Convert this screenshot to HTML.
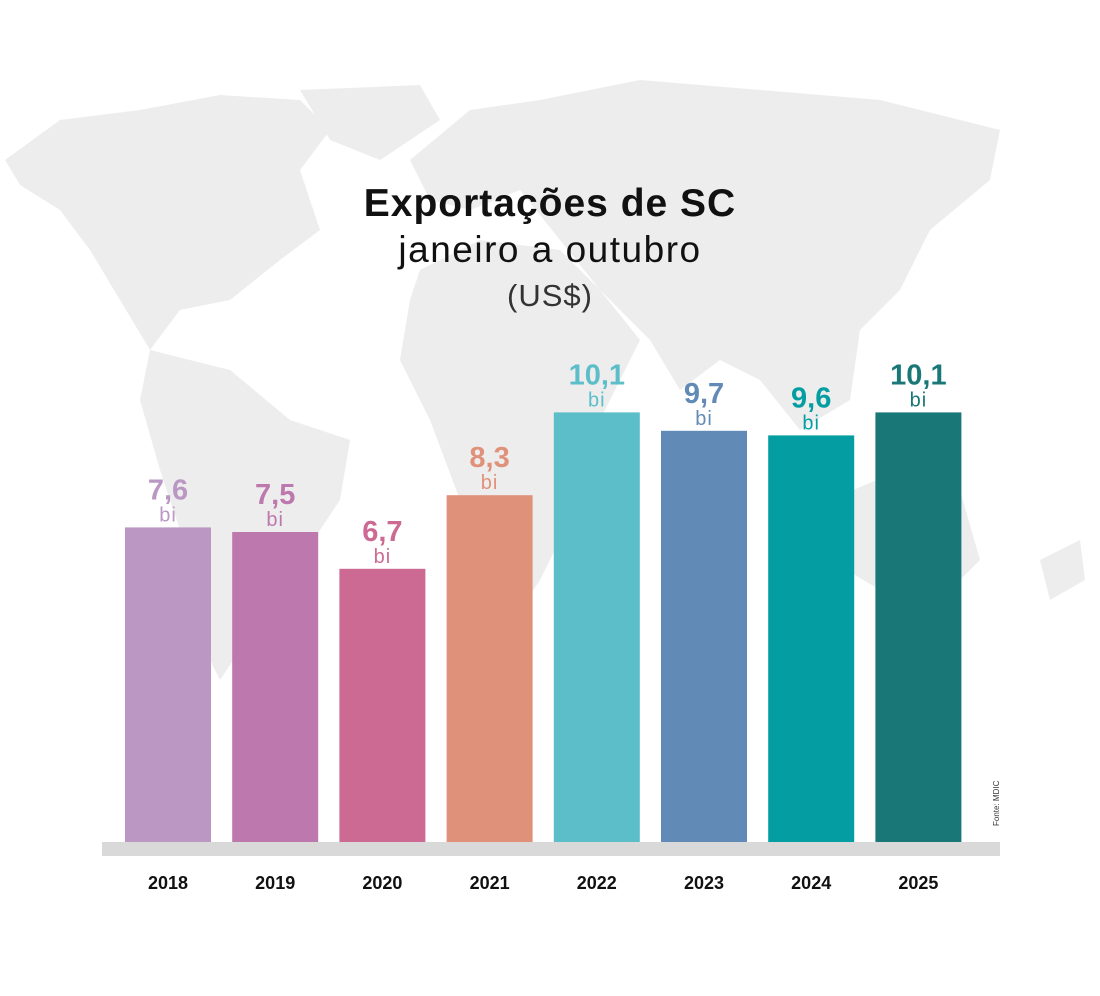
<!DOCTYPE html>
<html><head><meta charset="utf-8"><style>
body{margin:0;width:1100px;height:996px;background:#fff;overflow:hidden;font-family:"Liberation Sans",sans-serif;position:relative}
svg{position:absolute;left:0;top:0}
</style></head><body>
<svg width="1100" height="996">
<g fill="#ededed">
<path d="M5,160 L60,120 L140,110 L220,95 L300,100 L330,130 L300,170 L320,230 L280,260 L230,300 L180,310 L150,350 L120,300 L90,250 L60,210 L20,185Z"/>
<path d="M300,90 L420,85 L440,120 L380,160 L330,140Z"/>
<path d="M150,350 L230,370 L290,420 L350,440 L340,500 L300,560 L260,620 L220,680 L200,640 L190,560 L160,470 L140,400Z"/>
<path d="M410,160 L470,110 L540,100 L560,150 L520,190 L470,210 L430,200Z"/>
<path d="M420,270 L480,240 L560,250 L600,290 L640,340 L600,420 L580,500 L540,580 L500,640 L470,600 L460,500 L430,420 L400,360 L410,300Z"/>
<path d="M540,100 L640,80 L760,90 L880,100 L1000,130 L990,180 L930,230 L900,290 L860,330 L850,400 L800,430 L760,380 L720,360 L680,390 L650,340 L600,290 L560,240 L520,190Z"/>
<path d="M830,500 L900,470 L960,490 L980,560 L940,600 L880,590 L830,560Z"/>
<path d="M1040,560 L1080,540 L1085,580 L1050,600Z"/>
</g>
<text x="550" y="216" text-anchor="middle" font-size="39" font-weight="bold" fill="#111" letter-spacing="1">Exportações de SC</text>
<text x="550" y="262" text-anchor="middle" font-size="37" fill="#111" letter-spacing="1.5">janeiro a outubro</text>
<text x="550" y="306" text-anchor="middle" font-size="31" fill="#333" letter-spacing="1">(US$)</text>
<rect x="102" y="842" width="898" height="14" fill="#d9d9d9"/>
<text transform="translate(999,826) rotate(-90)" font-size="8" fill="#333">Fonte: MDIC</text>
<g id="bars"></g>
</svg>
<script>
const years=["2018","2019","2020","2021","2022","2023","2024","2025"];
const values=[7.6,7.5,6.7,8.3,10.1,9.7,9.6,10.1];
const labels=["7,6","7,5","6,7","8,3","10,1","9,7","9,6","10,1"];
const colors=["#ba98c3","#bd78ad","#cc6a94","#e0917a","#5cbec9","#628ab6","#049ea2","#1a7777"];
const base=842;
function yScale(v){return base-(46*v-35);}
function xScale(i){return 125+i*107.2;}
const g=document.getElementById('bars');
const NS="http://www.w3.org/2000/svg";
values.forEach((v,i)=>{
  const x=xScale(i),y=yScale(v),w=86,cx=x+w/2;
  const r=document.createElementNS(NS,'rect');
  r.setAttribute('x',x);r.setAttribute('y',y);r.setAttribute('width',w);r.setAttribute('height',base-y);r.setAttribute('fill',colors[i]);
  
  
  g.appendChild(r);
  const t=document.createElementNS(NS,'text');
  t.setAttribute('x',cx);t.setAttribute('y',y-28);t.setAttribute('text-anchor','middle');t.setAttribute('font-size','29');t.setAttribute('font-weight','bold');t.setAttribute('fill',colors[i]);
  t.textContent=labels[i];
  
  
  g.appendChild(t);
  const b=document.createElementNS(NS,'text');
  b.setAttribute('x',cx);b.setAttribute('y',y-6);b.setAttribute('text-anchor','middle');b.setAttribute('font-size','20');b.setAttribute('fill',colors[i]);b.setAttribute('letter-spacing','1');
  b.textContent='bi';
  
  
  g.appendChild(b);
  const yl=document.createElementNS(NS,'text');
  yl.setAttribute('x',cx);yl.setAttribute('y',889);yl.setAttribute('text-anchor','middle');yl.setAttribute('font-size','18');yl.setAttribute('font-weight','bold');yl.setAttribute('fill','#111');
  yl.textContent=years[i];
  
  
  g.appendChild(yl);
});
</script>
</body></html>
